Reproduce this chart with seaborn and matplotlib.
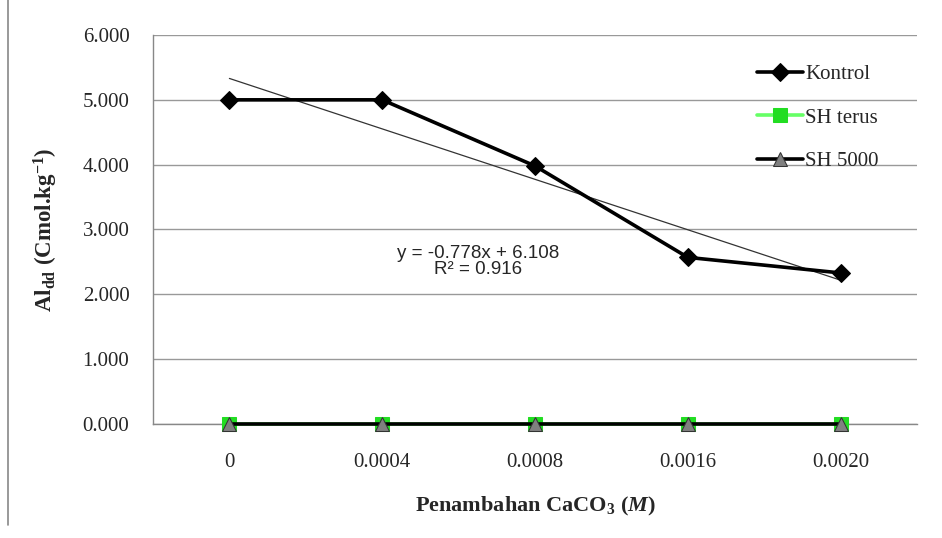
import numpy as np
import pandas as pd
import matplotlib
matplotlib.use("Agg")
import matplotlib.pyplot as plt
import seaborn as sns
from matplotlib.lines import Line2D

categories = ["0", "0.0004", "0.0008", "0.0016", "0.0020"]
kontrol = [5.0, 5.0, 3.98, 2.57, 2.33]
sh_terus = [0.0, 0.0, 0.0, 0.0, 0.0]
sh_5000 = [0.0, 0.0, 0.0, 0.0, 0.0]
trend_slope = -0.778
trend_intercept = 6.108
r2 = 0.916
yticks = [0, 1, 2, 3, 4, 5, 6]

sns.set_style("white")
plt.rcParams["font.family"] = ["Liberation Serif", "DejaVu Serif"]
plt.rcParams["mathtext.fontset"] = "custom"
plt.rcParams["mathtext.rm"] = "Liberation Serif:bold"
plt.rcParams["mathtext.it"] = "Liberation Serif:bold:italic"
plt.rcParams["mathtext.bf"] = "Liberation Serif:bold"

fig = plt.figure(figsize=(9.42, 5.38), dpi=100)
ax = fig.add_axes([153/942, 1-424/538, (917-153)/942, (424-35)/538])

idx = np.arange(len(categories))
df = pd.DataFrame({"x": idx, "Kontrol": kontrol, "SH terus": sh_terus, "SH 5000": sh_5000})

sns.lineplot(data=df, x="x", y="Kontrol", ax=ax, color="black", lw=2.6,
             marker="D", markersize=9, markeredgecolor="black", label="Kontrol",
             zorder=4, clip_on=False)
sns.lineplot(data=df, x="x", y="SH terus", ax=ax, color="#66ff66", lw=2.6,
             marker="s", markersize=9.5, markerfacecolor="#22dd22", markeredgecolor="#22dd22",
             label="SH terus", zorder=5, clip_on=False)
sns.lineplot(data=df, x="x", y="SH 5000", ax=ax, color="black", lw=2.6,
             marker="^", markersize=9.5, markerfacecolor="#808080", markeredgecolor="#333333",
             label="SH 5000", zorder=6, clip_on=False)

# linear trendline (Excel style, x = 1..n)
ty = trend_slope * (idx + 1) + trend_intercept
ax.plot(idx, ty, color="#333333", lw=0.9, zorder=3)

ax.text(1.625, 2.51, f"y = {trend_slope}x + {trend_intercept}\nR² = {r2}",
        ha="center", va="center", fontsize=13.5, family=["Liberation Sans", "DejaVu Sans"],
        linespacing=0.95)

ax.set_xlim(-0.5, len(categories) - 0.5)
ax.set_ylim(0, 6)
ax.set_yticks(yticks)
ax.set_yticklabels([f"{v:.3f}" for v in yticks], fontsize=15)
ax.set_xticks(idx)
ax.set_xticklabels(categories, fontsize=15)
ax.set_xticks(np.arange(len(categories) + 1) - 0.5, minor=True)
ax.tick_params(axis="x", which="major", length=0, pad=21)
ax.tick_params(axis="x", which="minor", length=6, color="#888888", width=1)
ax.tick_params(axis="y", which="major", length=6, color="#888888", width=1, pad=11)

ax.yaxis.grid(True, color="#999999", lw=1)
ax.xaxis.grid(False)
for s in ["top", "right"]:
    ax.spines[s].set_visible(False)
for s in ["left", "bottom"]:
    ax.spines[s].set_color("#888888")
    ax.spines[s].set_linewidth(1)

ax.set_ylabel(r"Al$_{\mathrm{dd}}$ (Cmol.kg$^{\mathrm{-1}}$)", fontsize=16.5, fontweight="bold")
ax.yaxis.set_label_coords((46 - 153) / (917 - 153), 0.5)
ax.set_xlabel(r"Penambahan CaCO$_{\mathrm{3}}$ ($\mathit{M}$)", fontsize=16, fontweight="bold")
ax.xaxis.set_label_coords(0.5, (424 - 506) / (424 - 35))
ax.xaxis.label.set_va("center")
ax.yaxis.label.set_va("center")

leg = ax.legend(loc="upper left", bbox_to_anchor=(0.766, 0.972), frameon=False, fontsize=15,
                handlelength=2.2, handletextpad=0.1, labelspacing=1.15)

fig.add_artist(Line2D([8/942, 8/942], [13/538, 1.0], color="#888888", lw=1.2, transform=fig.transFigure))

fig.savefig("out.png", dpi=100)
